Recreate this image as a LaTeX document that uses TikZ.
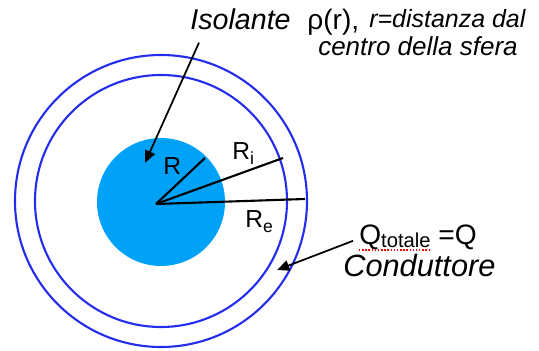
\documentclass[tikz,border=0pt]{standalone}
\usepackage{fontspec}
\setmainfont{Liberation Sans}
\usetikzlibrary{arrows.meta, positioning, calc}
\definecolor{shellblue}{RGB}{35,45,235}
\definecolor{corecyan}{RGB}{0,162,248}

\begin{document}
\begin{tikzpicture}[x=0.02cm, y=-0.02cm,
  shell/.style={shellblue, line width=1.2pt},
  raggio/.style={black, line width=1.2pt},
  pointer/.style={black, line width=1pt, -{Triangle[length=7pt,width=6pt]}},
  rlab/.style={inner sep=0pt, font=\fontsize{14}{16}\selectfont},
  txt/.style={inner sep=0pt, font=\fontsize{16}{19}\selectfont},
  itxt/.style={inner sep=0pt, font=\fontsize{17}{20}\selectfont\itshape},
  small itxt/.style={inner sep=0pt, font=\fontsize{14.8}{17}\selectfont\itshape}]
  \useasboundingbox (0,0) rectangle (539,351);
  % sfera isolante e guscio conduttore
  \fill[corecyan] (161,202) circle[radius=64];
  \foreach \r in {126,146} {
    \draw[shell] (161,201) circle[radius=\r];
  }
  % raggi
  \coordinate (O) at (156,204);
  \coordinate (pR) at (205,158);
  \coordinate (pRi) at (283,158);
  \coordinate (pRe) at (305,199);
  \foreach \p in {pR, pRi, pRe} {
    \draw[raggio] (O) -- (\p);
  }
  \node[rlab, anchor=base west] (lR) at (163,175) {R};
  \node[rlab, anchor=base west] (lRi) at (232,160) {R\raisebox{-2.5pt}{\fontsize{10}{12}\selectfont i}};
  \node[rlab, anchor=base west] (lRe) at (245,228) {R\raisebox{-2.5pt}{\fontsize{10}{12}\selectfont e}};
  % testi in alto
  \node[itxt, font=\fontsize{16.3}{19}\selectfont\itshape, anchor=base west] (isol) at (190,30) {Isolante};
  \node[txt, anchor=base west] (dens) at (307,30) {ρ(r),};
  \node[small itxt, font=\fontsize{14.2}{17}\selectfont\itshape, anchor=base west] (dist) at (369,28) {r=distanza dal};
  \node[small itxt, anchor=base] (centro) at (418,56) {centro della sfera};
  % testi in basso
  \node[txt, anchor=base west] (qtot) at (359,245)
    {Q\raisebox{-1.7pt}{\fontsize{11.5}{13}\selectfont totale} =Q};
  \node[itxt, font=\fontsize{17.5}{20}\selectfont\itshape, anchor=base west] (cond) at (343,277) {Conduttore};
  \draw[red, line width=0.8pt, densely dotted] (359,250) -- (431,250);
  % frecce
  \draw[pointer] (isol.south west) ++(9,12) -- (145,163);
  \draw[pointer] (qtot.west) ++(-6,3) -- (277,270);
\end{tikzpicture}
\end{document}
